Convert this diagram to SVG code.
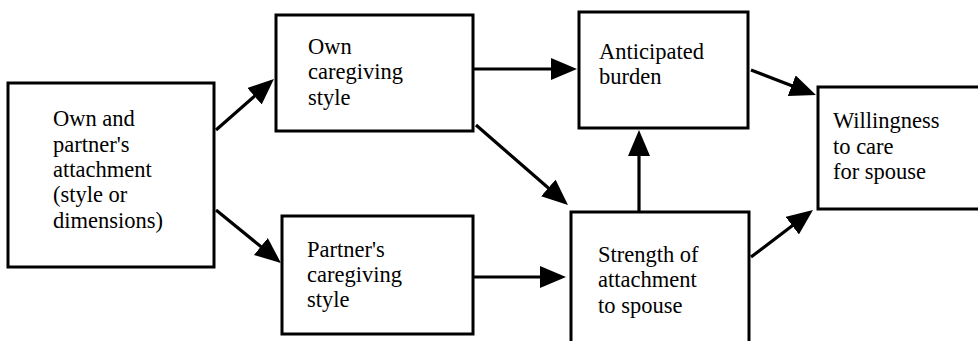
<svg xmlns="http://www.w3.org/2000/svg" width="978" height="341" viewBox="0 0 978 341">
<style>
.box{fill:#fff;stroke:#000;stroke-width:3}
text{font-family:'Liberation Serif','DejaVu Serif',serif;font-size:22.5px;fill:#000}
.c{stroke:#000;stroke-width:3.2;fill:none;marker-end:url(#ah)}
</style>
<defs>
<marker id="ah" viewBox="0 0 26 22" refX="21" refY="11" markerWidth="26" markerHeight="22" markerUnits="userSpaceOnUse" orient="auto">
<path d="M0,0 L26,11 L0,22 Z" fill="#000"/>
</marker>
</defs>
<rect width="978" height="341" fill="#fff"/>
<g id="connectors">
<line class="c" x1="216" y1="130" x2="270.2" y2="82.3"/>
<line class="c" x1="216" y1="210" x2="277.1" y2="259.8"/>
<line class="c" x1="473" y1="69" x2="572" y2="69"/>
<line class="c" x1="476" y1="125" x2="564.2" y2="201.7"/>
<line class="c" x1="473" y1="277" x2="561" y2="277"/>
<line class="c" x1="639" y1="211" x2="639" y2="135"/>
<line class="c" x1="751" y1="70" x2="811.3" y2="93.2"/>
<line class="c" x1="751" y1="257" x2="809" y2="213"/>
</g>
<g id="n_attachment">
<rect class="box" x="8" y="83" width="206" height="184"/>
<text font-family="Liberation Serif, DejaVu Serif, serif"><tspan x="53" y="126">Own and</tspan><tspan x="53" y="152">partner's</tspan><tspan x="53" y="177">attachment</tspan><tspan x="53" y="202">(style or</tspan><tspan x="53" y="228">dimensions)</tspan></text>
</g>
<g id="n_own_caregiving">
<rect class="box" x="276" y="15" width="197" height="116"/>
<text font-family="Liberation Serif, DejaVu Serif, serif"><tspan x="308" y="54">Own</tspan><tspan x="308" y="79">caregiving</tspan><tspan x="308" y="105">style</tspan></text>
</g>
<g id="n_partner_caregiving">
<rect class="box" x="282" y="216" width="191" height="118"/>
<text font-family="Liberation Serif, DejaVu Serif, serif"><tspan x="307" y="257">Partner's</tspan><tspan x="307" y="282">caregiving</tspan><tspan x="307" y="307">style</tspan></text>
</g>
<g id="n_burden">
<rect class="box" x="579" y="12" width="169" height="116"/>
<text font-family="Liberation Serif, DejaVu Serif, serif"><tspan x="599" y="59">Anticipated</tspan><tspan x="599" y="84">burden</tspan></text>
</g>
<g id="n_strength">
<rect class="box" x="571" y="212" width="178" height="140"/>
<text font-family="Liberation Serif, DejaVu Serif, serif"><tspan x="598" y="262">Strength of</tspan><tspan x="598" y="287">attachment</tspan><tspan x="598" y="313">to spouse</tspan></text>
</g>
<g id="n_willingness">
<rect class="box" x="818" y="87" width="170" height="122"/>
<text font-family="Liberation Serif, DejaVu Serif, serif"><tspan x="833" y="128">Willingness</tspan><tspan x="833" y="154">to care</tspan><tspan x="833" y="179">for spouse</tspan></text>
</g>
</svg>
